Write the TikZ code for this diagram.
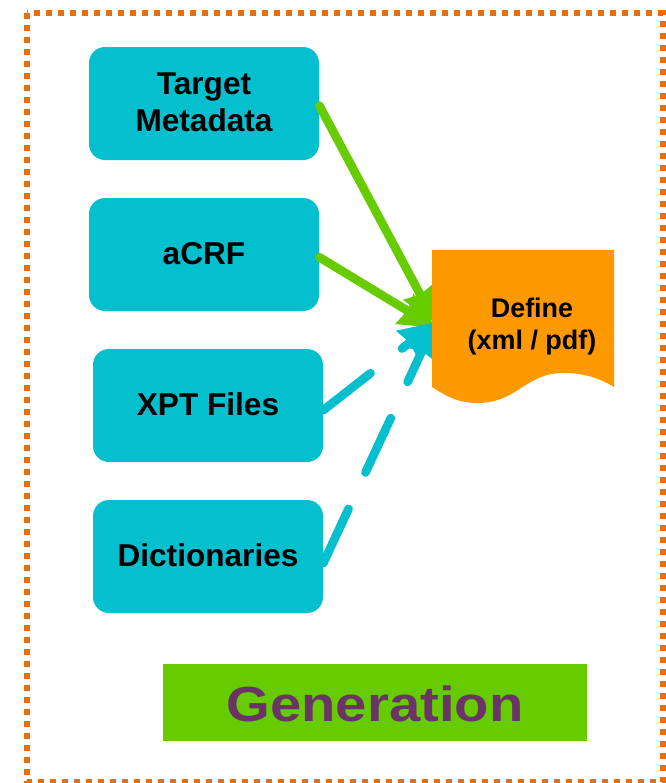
\documentclass[tikz,border=0pt]{standalone}
\usepackage{graphicx}
\usepackage{fontspec}
\setmainfont{Liberation Sans}
\usetikzlibrary{arrows.meta,calc}
\definecolor{tealbox}{HTML}{04BFCD}
\definecolor{greenc}{HTML}{66CC00}
\definecolor{orangedoc}{HTML}{FF9900}
\definecolor{framec}{HTML}{E96E0C}
\definecolor{purpletext}{HTML}{6B3468}
\tikzset{
  srcbox/.style={fill=tealbox,rounded corners=12pt,minimum width=172.5pt,minimum height=84.75pt,inner sep=0pt,align=center,text depth=2pt,font=\fontsize{23.7}{27.5}\selectfont\bfseries},
  bighead/.style={-{Stealth[length=27pt,width=25pt,inset=2pt]}},
  solidarrow/.style={bighead,draw=greenc,line width=6.5pt,line cap=round},
  dasharrow/.style={bighead,draw=tealbox,line width=6.5pt,line cap=round,dash pattern=on 45pt off 30pt}
}
\begin{document}
\begin{tikzpicture}[x=0.75pt,y=-0.75pt]
\useasboundingbox (0,0) rectangle (666,783);
\begin{scope}
\clip (0,0) rectangle (666,783);
\draw[framec,line width=4.5pt,dash pattern=on 4.5pt off 4.5pt] (27,13) rectangle (662.5,782);
\end{scope}
\node[srcbox] (tm) at (204,103.5) {Target\\Metadata};
\node[srcbox] (acrf) at (204,254.5) {aCRF};
\node[srcbox] (xpt) at (208,405.5) {XPT Files};
\node[srcbox] (dict) at (208,556.5) {Dictionaries};
\coordinate (in1) at (436,324);
\coordinate (in2) at (436,328);
\coordinate (in3) at (436,322);
\coordinate (in4) at (436,321);
\draw[solidarrow] ([yshift=-1.5pt]tm.east) -- (in1);
\draw[solidarrow] ([yshift=-2pt]acrf.east) -- (in2);
\draw[dasharrow] ([yshift=-3.5pt]xpt.east) -- (in3);
\draw[dasharrow] ([yshift=-5pt]dict.east) -- (in4);
\path[fill=orangedoc] (432,250) -- (614,250) -- (614,387)
  .. controls (596,376) and (580,373) .. (563,373)
  .. controls (525,373) and (518,403) .. (477,403)
  .. controls (458,403) and (446,396) .. (432,387) -- cycle;
\node[font=\fontsize{20.2}{24}\selectfont\bfseries,align=center,inner sep=0pt] (doc) at (532,327) {Define\\(xml / pdf)};
\node[fill=greenc,text=purpletext,minimum width=318pt,minimum height=57.75pt,inner sep=0pt,text height=28pt,text depth=0pt,font=\fontsize{37}{42}\selectfont\bfseries] (gen) at (375,702.5) {\scalebox{1.14}[1]{Generation}};
\end{tikzpicture}
\end{document}
